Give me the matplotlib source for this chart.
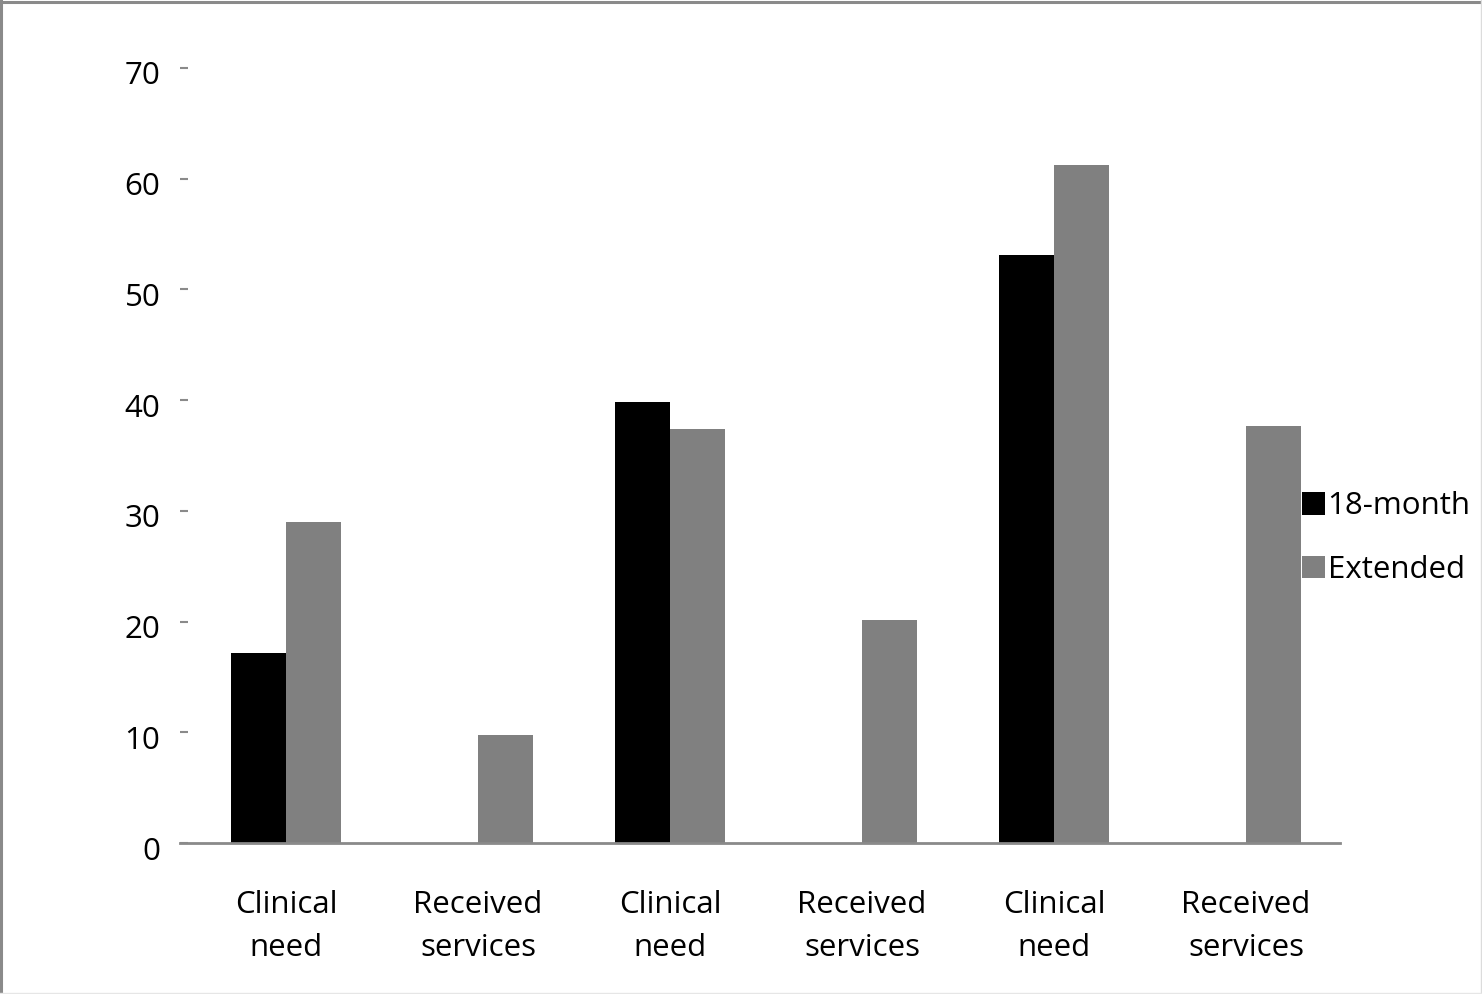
import matplotlib
matplotlib.use("Agg")
import matplotlib.pyplot as plt
from matplotlib.lines import Line2D
from matplotlib.transforms import ScaledTranslation
import numpy as np

categories = ["Clinical\nneed", "Received\nservices", "Clinical\nneed",
              "Received\nservices", "Clinical\nneed", "Received\nservices"]
series_names = ["18-month", "Extended"]
month18 = [17.2, 0, 39.8, 0, 53.1, 0]
extended = [29.0, 9.8, 37.4, 20.1, 61.2, 37.7]
yticks = [0, 10, 20, 30, 40, 50, 60, 70]

plt.rcParams["font.family"] = ["Open Sans", "DejaVu Sans"]
FS = 22.5

fig = plt.figure(figsize=(14.82, 9.94), dpi=100)
ax = fig.add_axes([180 / 1482, 151 / 994, 1160 / 1482, 775 / 994])

x = np.arange(len(categories))
w = 0.285
b1 = ax.bar(x - w / 2, month18, w, color="#000000", label=series_names[0])
b2 = ax.bar(x + w / 2, extended, w, color="#808080", label=series_names[1])

ax.set_xlim(-0.552, 5.49)
ax.set_ylim(0, 70)
ax.set_yticks(yticks)
ax.set_yticklabels([str(v) for v in yticks])
ax.set_xticks(x)
ax.set_xticklabels(categories, linespacing=1.55)

for s in ["top", "right", "left"]:
    ax.spines[s].set_visible(False)
ax.spines["bottom"].set_color("#8a8a8a")
ax.spines["bottom"].set_linewidth(2)

ax.tick_params(axis="y", direction="in", length=6, width=1.5, color="#8a8a8a",
               pad=14, labelsize=FS)
ax.tick_params(axis="x", length=0, pad=34, labelsize=FS)

# value labels sit slightly below their tick marks
shift = ScaledTranslation(0, -5 / 100, fig.dpi_scale_trans)
for lbl in ax.get_yticklabels():
    lbl.set_transform(lbl.get_transform() + shift)

leg = fig.legend(handles=[b1, b2], loc="center left",
                 bbox_to_anchor=(1302 / 1482, 1 - 538 / 994),
                 frameon=False, fontsize=FS, handlelength=0.72, handleheight=0.72,
                 handletextpad=0.1, labelspacing=1.07, borderpad=0, borderaxespad=0)

# outer frame of the chart area
fig.add_artist(Line2D([0, 1], [0.998, 0.998], transform=fig.transFigure, color="#8a8a8a", lw=2.2))
fig.add_artist(Line2D([0.0007, 0.0007], [0, 1], transform=fig.transFigure, color="#8a8a8a", lw=2.2))
fig.add_artist(Line2D([0.9995, 0.9995], [0, 1], transform=fig.transFigure, color="#dcdcdc", lw=1))
fig.add_artist(Line2D([0, 1], [0.0015, 0.0015], transform=fig.transFigure, color="#e6e6e6", lw=1))

fig.savefig("out.png", dpi=100)
